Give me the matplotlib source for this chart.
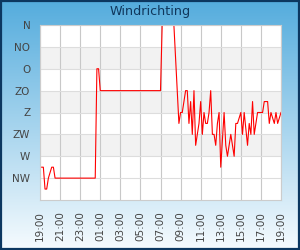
import numpy as np
import pandas as pd
import matplotlib
matplotlib.use("Agg")
import matplotlib.pyplot as plt
from matplotlib.patches import Rectangle

# wind direction readings (degrees, 0 = N)
times = [
    "19:10", "19:20", "19:30", "19:40", "19:50", "20:10", "20:20", "20:30",
    "00:30", "00:40", "00:50", "01:00", "07:00", "07:10", "08:20", "08:50",
    "09:00", "09:10", "09:20", "09:30", "09:40", "09:50", "10:00", "10:10",
    "10:20", "10:30", "10:40", "10:50", "11:00", "11:10", "11:20", "11:30",
    "11:40", "11:50", "12:00", "12:10", "12:20", "12:30", "12:40", "12:50",
    "13:00", "13:20", "13:30", "13:40", "14:00", "14:20", "14:30", "14:40",
    "15:00", "15:10", "15:20", "15:40", "15:50", "16:00", "16:10", "16:20",
    "16:40", "17:10", "17:20", "17:40", "17:50", "18:00", "18:20", "18:30",
    "18:40", "19:00",
]
directions = [
    292.5, 292.5, 337.5, 337.5, 315, 292.5, 292.5, 315,
    315, 90, 90, 135, 135, 0, 0, 202.5,
    180, 180, 157.5, 135, 135, 202.5, 157.5, 225,
    135, 247.5, 225, 202.5, 157.5, 225, 180, 202.5,
    202.5, 180, 135, 225, 225, 247.5, 202.5, 180,
    292.5, 180, 247.5, 270, 225, 270, 202.5, 202.5,
    180, 225, 180, 247.5, 202.5, 225, 157.5, 225,
    180, 180, 157.5, 157.5, 202.5, 180, 202.5, 180,
    202.5, 180,
]
compass = ["N", "NO", "O", "ZO", "Z", "ZW", "W", "NW"]
compass_deg = [0, 45, 90, 135, 180, 225, 270, 315]

# build timestamps, rolling over midnight
start = pd.Timestamp("2024-05-01 19:00")
stamps = []
day = 0
prev = None
for t in times:
    h, m = map(int, t.split(":"))
    if prev is not None and h < prev:
        day += 1
    prev = h
    stamps.append(pd.Timestamp("2024-05-01") + pd.Timedelta(days=day, hours=h, minutes=m))
end = start + pd.Timedelta(hours=24)
ticks = pd.date_range(start, end, freq="2h")

fig = plt.figure(figsize=(3, 2.5), dpi=100)

# gradient background
bg = fig.add_axes([0, 0, 1, 1], zorder=-10)
top = np.array([84, 172, 221]) / 255
bot = np.array([246, 251, 254]) / 255
g = np.linspace(0, 1, 256)[:, None]
grad = top[None, :] * (1 - g) + bot[None, :] * g
bg.imshow(grad[:, None, :], aspect="auto", extent=[0, 1, 0, 1])
bg.axis("off")
fig.patches.append(Rectangle((0.003, 0.004), 0.994, 0.992, transform=fig.transFigure,
                             fill=False, ec="#0c3760", lw=1.6))

ax = fig.add_axes([40 / 300, 1 - 200 / 250, 241 / 300, 175 / 250])
ax.set_facecolor("white")

for lo in (45, 135, 225):
    ax.axhspan(lo, lo + 45, color="#f2f2f2", lw=0, zorder=0)

ax.plot(stamps, directions, color="#ff0000", lw=0.8, zorder=2)

ax.set_ylim(360, 0)
ax.set_yticks(compass_deg)
ax.set_yticklabels(compass)
ax.set_xlim(start, end)
ax.set_xticks(ticks)
ax.set_xticklabels([t.strftime("%H:%M") for t in ticks])

ax.set_axisbelow(True)
ax.grid(True, axis="y", color="#dddddd", lw=0.8)
ax.grid(True, axis="x", color="#c8c8c8", lw=0.8)
ax.tick_params(axis="both", length=0, labelsize=7.5, labelcolor="#444444")
ax.tick_params(axis="x", pad=8, labelrotation=90)
ax.tick_params(axis="y", pad=7)
for s in ax.spines.values():
    s.set_color("#cccccc")
    s.set_linewidth(0.8)
    s.set_zorder(3)

fig.text(0.5, 1 - 12 / 250, "Windrichting", ha="center", va="center",
         fontsize=9.2, color="#10375c")

fig.savefig("out.png", dpi=100)
